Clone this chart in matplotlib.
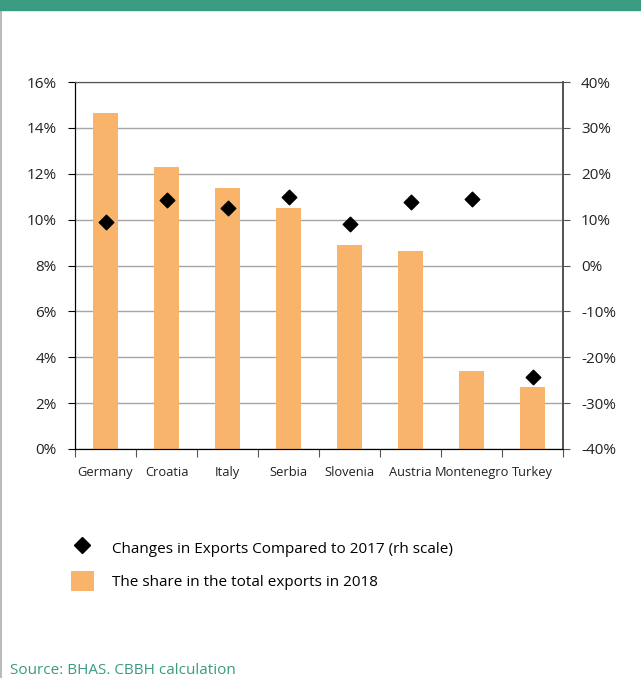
import numpy as np
import matplotlib.pyplot as plt
from matplotlib.lines import Line2D
from matplotlib.patches import Patch

plt.rcParams['font.family'] = ['Open Sans', 'DejaVu Sans']

countries = ["Germany", "Croatia", "Italy", "Serbia", "Slovenia", "Austria", "Montenegro", "Turkey"]
share_2018 = [14.66, 12.3, 11.4, 10.5, 8.88, 8.62, 3.4, 2.69]
change_vs_2017 = [9.4, 14.3, 12.6, 14.9, 9.0, 13.9, 14.4, -24.4]

bar_color = "#f9b46b"
green = "#3a9b82"

fig = plt.figure(figsize=(6.41, 6.78), dpi=100)
ax = fig.add_axes([75 / 641, 1 - 449 / 678, 488 / 641, 367 / 678])
ax2 = ax.twinx()

x = np.arange(len(countries))
ax.bar(x, share_2018, width=0.4, color=bar_color, zorder=2)
ax2.scatter(x, change_vs_2017, marker="D", s=55, color="black", zorder=3)

ax.set_xlim(-0.5, len(countries) - 0.5)
ax.set_ylim(0, 16)
ax.set_yticks(np.arange(0, 17, 2))
ax.set_yticklabels([f"{v}%" for v in range(0, 17, 2)], fontsize=11, color="#222222")
ax2.set_ylim(-40, 40)
ax2.set_yticks(np.arange(-40, 41, 10))
ax2.set_yticklabels([f"{v}%" for v in range(-40, 41, 10)], fontsize=11, color="#222222")

ax.yaxis.grid(True, color="#a6a6a6", linewidth=1, zorder=0)
ax.set_axisbelow(True)

# category labels centred, tick marks on the boundaries between categories
ax.set_xticks(np.arange(-0.5, len(countries)), minor=False)
ax.set_xticklabels([])
ax.set_xticks(x, minor=True)
ax.set_xticklabels(countries, minor=True, fontsize=9.3, color="#222222")
ax.tick_params(axis="x", which="major", direction="out", length=6, color="#555555")
ax.tick_params(axis="x", which="minor", length=0, pad=12)
ax.tick_params(axis="y", direction="out", length=5, pad=8)
ax2.tick_params(axis="y", direction="out", length=5, pad=8, color="#555555")

for a in (ax, ax2):
    a.spines["left"].set_color("black")
    a.spines["bottom"].set_color("black")
    a.spines["top"].set_color("#555555")
    a.spines["right"].set_color("#555555")
    a.spines["right"].set_linewidth(1.3)

handles = [
    Line2D([], [], marker="D", linestyle="none", color="black", markersize=8),
    Patch(facecolor=bar_color),
]
labels = ["Changes in Exports Compared to 2017 (rh scale)", "The share in the total exports in 2018"]
fig.legend(handles, labels, loc="upper left", bbox_to_anchor=(57 / 641, 1 - 524 / 678),
           frameon=False, fontsize=11, handlelength=1.5, handleheight=1.7,
           labelspacing=0.8, handletextpad=1.2)

# header band and page border
fig.patches.append(plt.Rectangle((0, 1 - 10 / 678), 1, 10 / 678, transform=fig.transFigure,
                                 color=green, zorder=5))
fig.add_artist(Line2D([1 / 641, 1 / 641], [0, 1 - 10 / 678], transform=fig.transFigure,
                      color="#bbbbbb", linewidth=1.5))
fig.text(10 / 641, 1 - 671 / 678, "Source: BHAS. CBBH calculation", color=green,
         fontsize=11, va="center")

fig.savefig("out.png", dpi=100)
